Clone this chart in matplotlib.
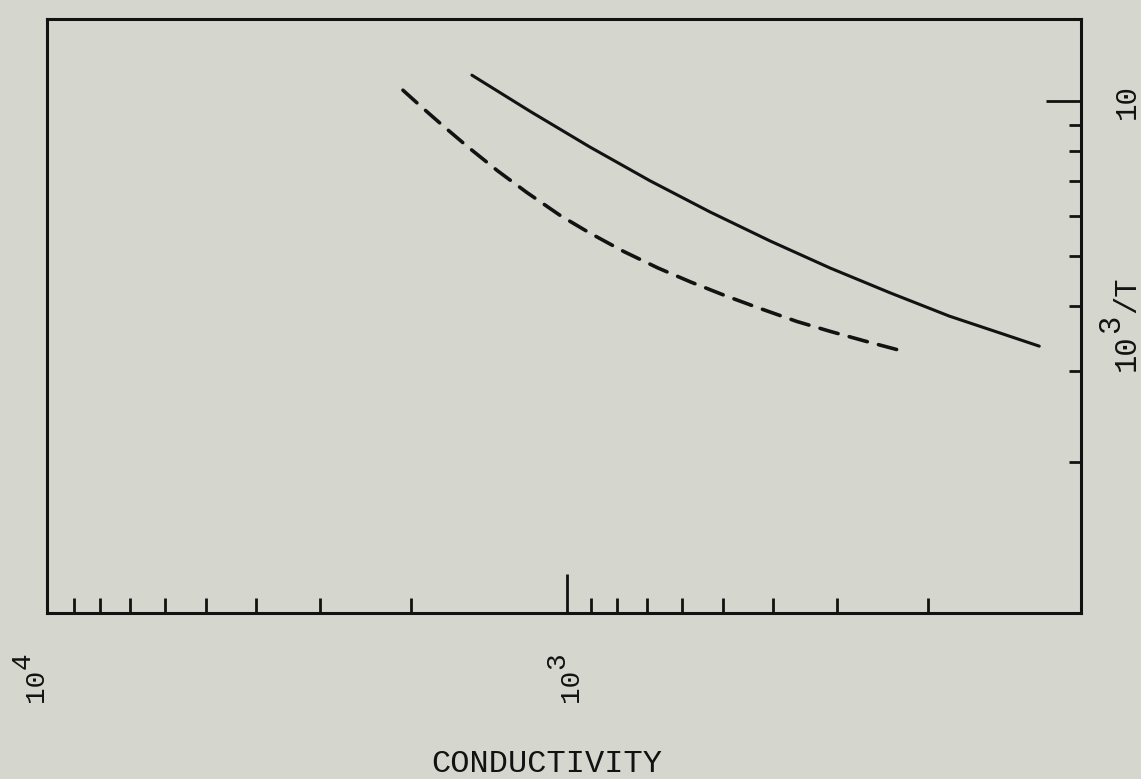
import matplotlib
matplotlib.use("Agg")
import matplotlib.pyplot as plt
from matplotlib.ticker import FixedLocator, NullFormatter

# conductivity (x) vs 10^3/T (y), both log
solid_cond = [1527, 1179, 903, 691, 529, 405, 310, 237, 182, 145, 122]
solid_invT = [11.23, 9.56, 8.15, 7.01, 6.10, 5.36, 4.75, 4.25, 3.83, 3.55, 3.35]

dash_cond = [2076, 1908, 1737, 1554, 1360, 1195, 1027, 903, 776, 667,
             576, 495, 425, 359, 310, 266, 225]
dash_invT = [10.50, 9.73, 8.96, 8.15, 7.32, 6.65, 5.99, 5.55, 5.11, 4.75,
             4.46, 4.20, 3.97, 3.74, 3.58, 3.43, 3.28]

x_major = [1e3]
x_minor = [200, 300, 400, 500, 600, 700, 800, 900,
           2000, 3000, 4000, 5000, 6000, 7000, 8000, 9000]
y_major = [10]
y_minor = [2, 3, 4, 5, 6, 7, 8, 9]

x_range = (10134, 101.3)
y_range = (1.018, 14.43)

ink = "#121212"
paper = "#d5d6cd"
mono = ["Liberation Mono", "DejaVu Sans Mono"]

fig = plt.figure(figsize=(11.41, 7.79), dpi=100, facecolor=paper)
ax = fig.add_axes([47 / 1141, 1 - 613 / 779, 1034 / 1141, 594 / 779])
ax.set_facecolor(paper)

ax.plot(solid_cond, solid_invT, color=ink, lw=2.2, solid_capstyle="round",
        solid_joinstyle="round")
ax.plot(dash_cond, dash_invT, color=ink, lw=2.6, dashes=(5.2, 3.2),
        dash_capstyle="round", dash_joinstyle="round")

ax.set_xscale("log")
ax.set_yscale("log")
ax.set_xlim(*x_range)
ax.set_ylim(*y_range)

for s in ax.spines.values():
    s.set_color(ink)
    s.set_linewidth(2.2)

ax.xaxis.set_major_locator(FixedLocator(x_major))
ax.xaxis.set_minor_locator(FixedLocator(x_minor))
ax.yaxis.set_major_locator(FixedLocator(y_major))
ax.yaxis.set_minor_locator(FixedLocator(y_minor))
for a in (ax.xaxis, ax.yaxis):
    a.set_major_formatter(NullFormatter())
    a.set_minor_formatter(NullFormatter())
ax.yaxis.tick_right()
ax.tick_params(which="both", direction="in", color=ink, width=2.0)
ax.tick_params(axis="x", which="major", length=28)
ax.tick_params(axis="x", which="minor", length=11)
ax.tick_params(axis="y", which="major", length=25)
ax.tick_params(axis="y", which="minor", length=9)
ax.tick_params(top=False, left=False)


def typed(xy, coords, dx, dy, parts, fs=20, gap=0.0, raise_=10):
    # parts: list of (text, raised) typed bottom-to-top, rotated 90 deg
    y = dy
    for txt, raised in parts:
        ax.annotate(txt, xy=xy, xycoords=coords,
                    xytext=(dx - (raise_ if raised else 0), y),
                    textcoords="offset points", rotation=90, ha="center",
                    va="bottom", fontsize=fs, family=mono, color=ink,
                    annotation_clip=False)
        y += 0.6 * fs * len(txt) + gap


typed((1e4, 0), ("data", "axes fraction"), -10, -64, [("10", False), ("4", True)])
typed((1e3, 0), ("data", "axes fraction"), 3, -64, [("10", False), ("3", True)])
ax.annotate("10", xy=(1, 10), xycoords=("axes fraction", "data"), xytext=(33, 0),
            textcoords="offset points", rotation=90, ha="center", va="center",
            fontsize=21, family=mono, color=ink, annotation_clip=False)
typed((1, 3), ("axes fraction", "data"), 33, 0,
      [("10", False), ("3", True), ("/T", False)], fs=22, gap=1, raise_=11)

fig.text(547 / 1141, 1 - 764 / 779, "CONDUCTIVITY", ha="center", va="center",
         fontsize=23, family=mono, color=ink)

fig.savefig("out.png", dpi=100, facecolor=paper)
